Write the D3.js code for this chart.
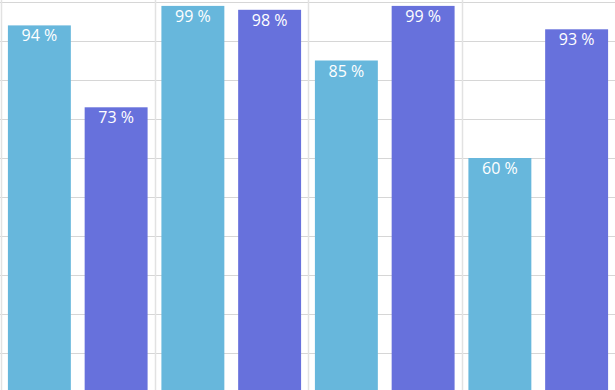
<!DOCTYPE html>
<html>
<head>
<meta charset="utf-8">
<script src="https://cdn.jsdelivr.net/npm/d3@7"></script>
<style>
  html, body { margin: 0; padding: 0; background: #fff; }
  svg { display: block; }
</style>
</head>
<body>
<div id="viz"></div>
<script>
// chart values
const categories = ["Group 1", "Group 2", "Group 3", "Group 4"];
const seriesNames = ["Series A", "Series B"];
const seriesA = [94, 99, 85, 60];
const seriesB = [73, 98, 99, 93];
const yTicks = [0, 10, 20, 30, 40, 50, 60, 70, 80, 90, 100];

const width = 615, height = 390;
const colors = ["#67b7dc", "#6771dc"];

const svg = d3.select("#viz")
  .append("svg")
    .attr("width", width)
    .attr("height", height);

const x0 = d3.scaleBand()
  .domain(categories)
  .range([1, 615]);

const x1 = d3.scaleBand()
  .domain(seriesNames)
  .range([0, x0.bandwidth()]);

const y = d3.scaleLinear()
  .domain([0, 100])
  .range([392, 2]);

// horizontal grid
svg.append("g")
  .selectAll("line")
  .data(yTicks)
  .join("line")
    .attr("x1", 0)
    .attr("x2", width)
    .attr("y1", d => Math.round(y(d)) + 0.5)
    .attr("y2", d => Math.round(y(d)) + 0.5)
    .attr("stroke", "#d6d6d6")
    .attr("stroke-width", 1);

// vertical grid at category boundaries
svg.append("g")
  .selectAll("line")
  .data(categories)
  .join("line")
    .attr("x1", d => Math.round(x0(d)) + 0.5)
    .attr("x2", d => Math.round(x0(d)) + 0.5)
    .attr("y1", 0)
    .attr("y2", height)
    .attr("stroke", "#e2e2e2")
    .attr("stroke-width", 1.5);

const rows = categories.map((c, i) => ({
  cat: c,
  values: [
    {name: seriesNames[0], value: seriesA[i]},
    {name: seriesNames[1], value: seriesB[i]}
  ]
}));

const barW = x1.bandwidth() * 0.82;
const colorOf = d3.scaleOrdinal().domain(seriesNames).range(colors);

const groups = svg.append("g")
  .selectAll("g")
  .data(rows)
  .join("g")
    .attr("transform", d => "translate(" + x0(d.cat) + ",0)");

groups.selectAll("rect")
  .data(d => d.values)
  .join("rect")
    .attr("x", d => x1(d.name) + (x1.bandwidth() - barW) / 2)
    .attr("y", d => y(d.value))
    .attr("width", barW)
    .attr("height", d => y(0) - y(d.value))
    .attr("fill", d => colorOf(d.name));

groups.selectAll("text")
  .data(d => d.values)
  .join("text")
    .attr("x", d => x1(d.name) + x1.bandwidth() / 2)
    .attr("y", d => y(d.value) + 16)
    .attr("text-anchor", "middle")
    .attr("fill", "#fff")
    .style("font-family", "'Open Sans', sans-serif")
    .style("font-size", "16px")
    .text(d => d.value + " %");
</script>
</body>
</html>
